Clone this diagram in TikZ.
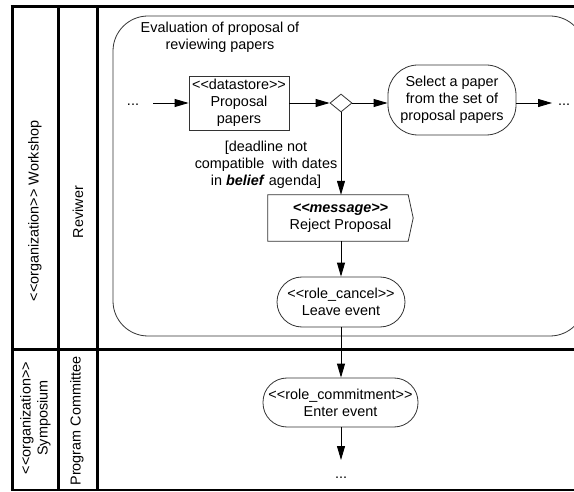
\documentclass[tikz,border=0pt]{standalone}
\usepackage{fontspec}
\setmainfont{Liberation Sans}
\usetikzlibrary{shapes.geometric,arrows.meta}
\newcommand\myll{<\kern0pt<}
\newcommand\mygg{>\kern0pt>}
\begin{document}
\begin{tikzpicture}[x=1pt,y=-1pt,font=\fontsize{14.4}{17}\selectfont,
  laneline/.style={line width=3pt},
  conn/.style={-{Triangle[length=14pt,width=8pt]},line width=0.9pt},
  actbox/.style={draw=black!80,line width=0.8pt,align=center,inner sep=0pt},
  plain/.style={align=center,inner sep=0pt}]
\useasboundingbox (0,0) rectangle (574,492);
\fill[white] (0,0) rectangle (574,492);
% pool and lanes
\draw[laneline] (10.5,6.5) -- (574,6.5);
\draw[laneline] (12,5) -- (12,491);
\draw[laneline] (58,6.5) -- (58,490);
\draw[laneline] (97,6.5) -- (97,490);
\draw[laneline] (12,350) -- (574,350);
\draw[line width=2.5pt] (10.5,490) -- (574,490);
% lane labels
\node[plain,rotate=90] (lw) at (35,211) {\myll organization\mygg\ Workshop};
\node[plain,rotate=90] (lr) at (78,212) {Reviwer};
\node[plain,rotate=90] (ls) at (35.5,418) {\myll organization\mygg\\Symposium};
\node[plain,rotate=90] (lp) at (77,421) {Program Committee};
% activity region
\begin{scope}
\clip (0,0) rectangle (574,492);
\draw[black!80,line width=0.8pt,rounded corners=35pt] (113,16) rectangle (585,336);
\end{scope}
\node[plain] (title) at (220,37.5) {Evaluation of proposal of\\reviewing papers};
% nodes
\node[plain] (dots1) at (133,105) {...};
\coordinate (start) at (153,103);
\node[actbox,minimum width=100pt,minimum height=54pt] (ds) at (239,103)
  {\myll datastore\mygg\\Proposal\\papers};
\node[diamond,draw=black!80,line width=0.8pt,minimum width=22pt,minimum height=18pt,inner sep=0pt] (dia) at (341,103) {};
\node[actbox,rounded corners=30pt,minimum width=128pt,minimum height=70pt] (sel) at (452,100)
  {Select a paper\\from the set of\\proposal papers};
\coordinate (end2) at (552,103);
\node[plain] (dots2) at (564,105) {...};
\node[plain] (guard) at (266,165) {[deadline not\\compatible~ with dates\\in \textbf{\textit{belief}} agenda]};
\node[plain,minimum width=145pt,minimum height=46pt] (msg) at (340.5,218)
  {\textbf{\textit{\myll message\mygg}}\\Reject Proposal};
\draw[black!80,line width=0.8pt] (msg.north west) -- ([xshift=-5pt]msg.north east) -- (msg.east)
  -- ([xshift=-5pt]msg.south east) -- (msg.south west) -- cycle;
\node[actbox,rounded corners=25pt,minimum width=128pt,minimum height=50pt] (leave) at (341,302)
  {\myll role\_cancel\mygg\\Leave event};
\node[actbox,rounded corners=24pt,minimum width=155pt,minimum height=49pt] (enter) at (340.5,402.5)
  {\myll role\_commitment\mygg\\Enter event};
\coordinate (end3) at (341,460);
\node[plain] (dots3) at (341,478) {...};
% connectors
\draw[conn] (start) -- (ds.west);
\draw[conn] (ds.east) -- (dia.west);
\draw[conn] (dia.east) -- (sel.west |- dia.east);
\draw[conn] (sel.east |- end2) -- (end2);
\draw[conn] (dia.south) -- (dia.south |- msg.north);
\draw[conn] (msg.south -| leave.north) -- (leave.north);
\draw[conn] (leave.south) -- (leave.south |- enter.north);
\draw[conn] (enter.south -| end3) -- (end3);
\end{tikzpicture}
\end{document}
